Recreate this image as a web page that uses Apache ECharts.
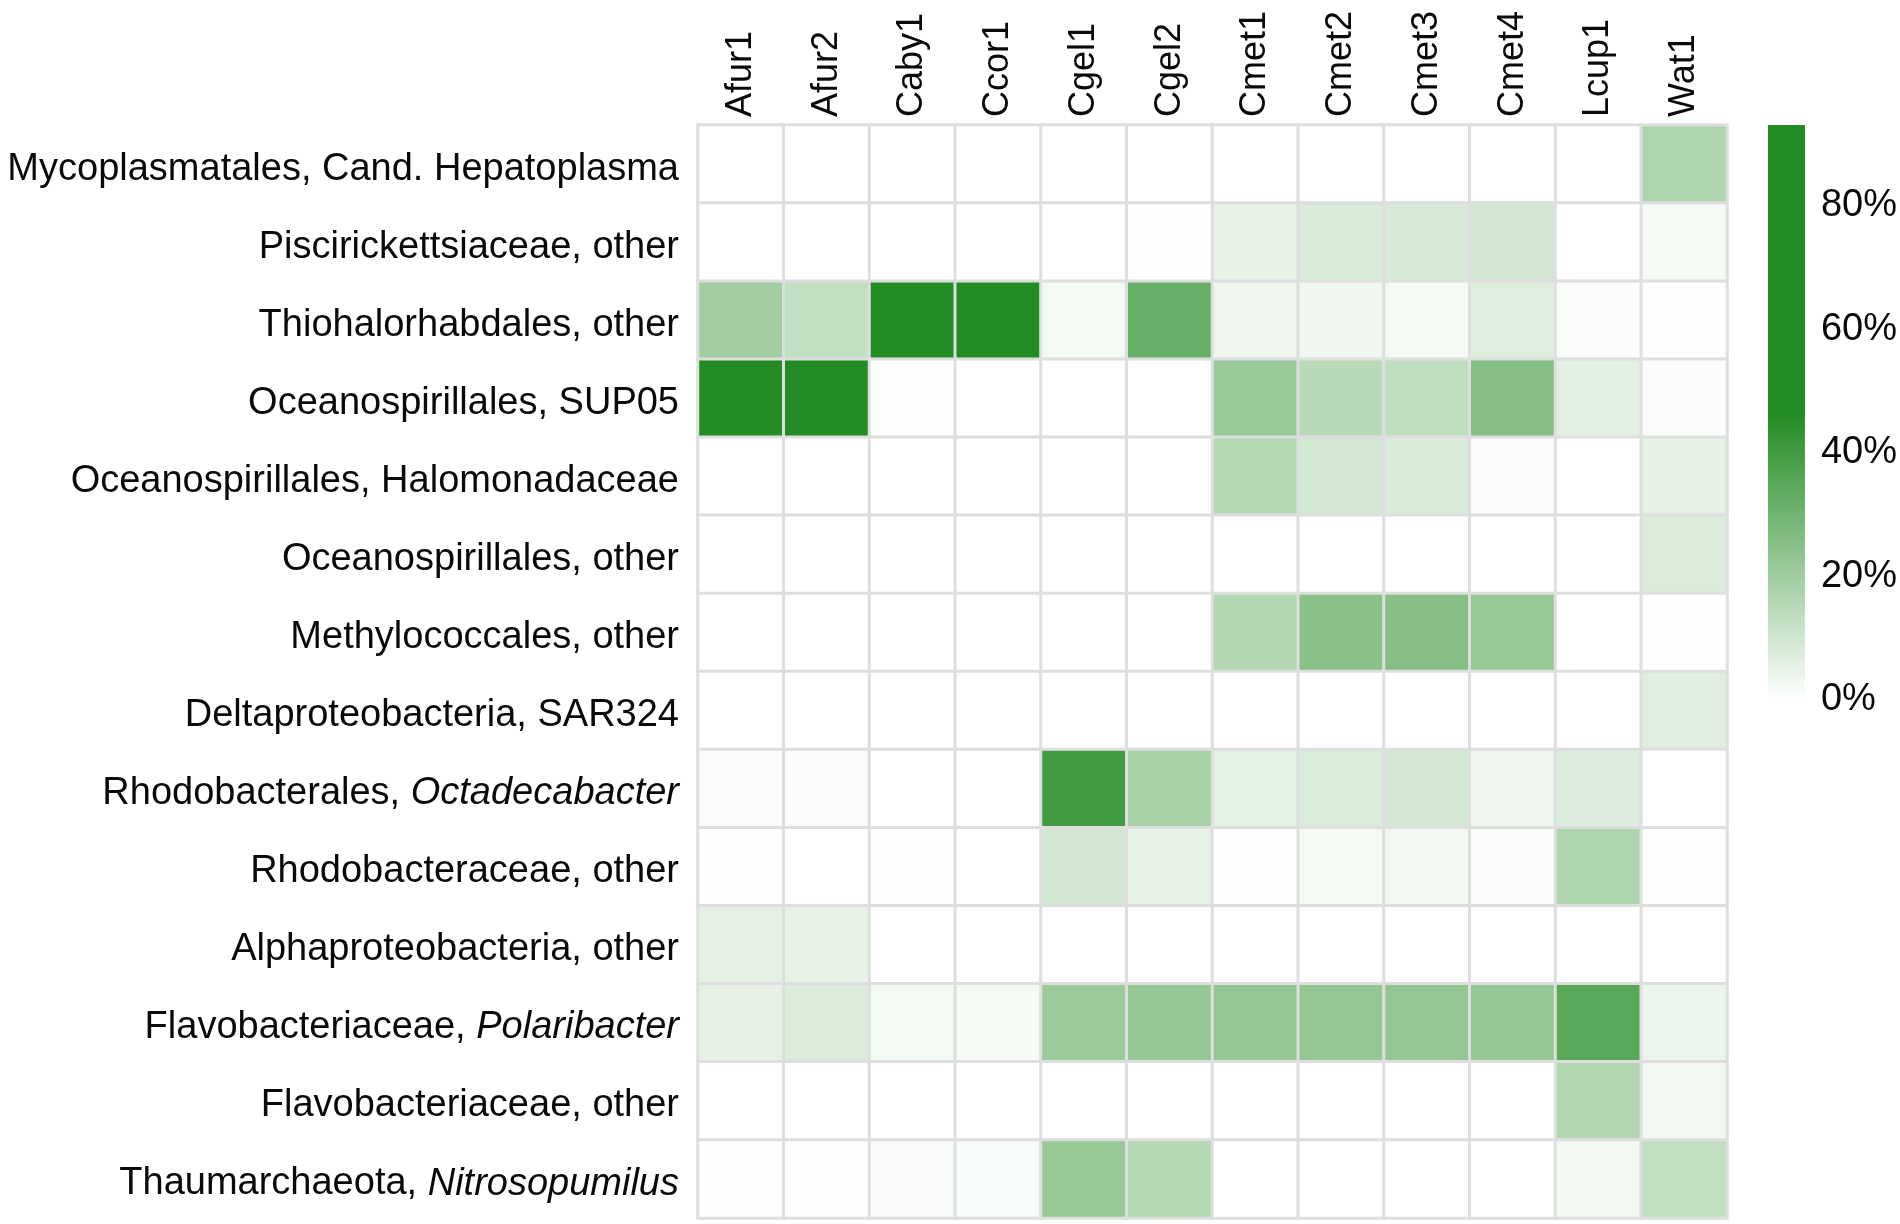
<!DOCTYPE html>
<html><head><meta charset="utf-8">
<script src="https://cdn.jsdelivr.net/npm/echarts@6/dist/echarts.min.js"></script>
<style>html,body{margin:0;padding:0;background:#fff}#c{width:1900px;height:1224px}</style>
</head><body><div id="c"></div>
<script>
const samples = ['Afur1','Afur2','Caby1','Ccor1','Cgel1','Cgel2','Cmet1','Cmet2','Cmet3','Cmet4','Lcup1','Wat1'];
const taxa = [
  'Mycoplasmatales, Cand. Hepatoplasma',
  'Piscirickettsiaceae, other',
  'Thiohalorhabdales, other',
  'Oceanospirillales, SUP05',
  'Oceanospirillales, Halomonadaceae',
  'Oceanospirillales, other',
  'Methylococcales, other',
  'Deltaproteobacteria, SAR324',
  'Rhodobacterales, Octadecabacter',
  'Rhodobacteraceae, other',
  'Alphaproteobacteria, other',
  'Flavobacteriaceae, Polaribacter',
  'Flavobacteriaceae, other',
  'Thaumarchaeota, Nitrosopumilus'
];
const italicGenera = ['Octadecabacter','Polaribacter','Nitrosopumilus'];
const colorbarTicks = [0, 20, 40, 60, 80];

// relative abundance (%) per taxon, in sample order
const mycoplasmatales    = [0, 0, 0, 0, 0, 0, 0, 0, 0, 0, 0, 17];
const piscirickettsiaceae= [0, 0, 0, 0, 0, 0.3, 5, 8, 8.5, 9.5, 0, 2];
const thiohalorhabdales  = [19.6, 13, 93, 88, 2.5, 32, 3.5, 3.2, 2.3, 6.7, 1, 0.5];
const sup05              = [78, 70, 0.3, 0, 0, 0, 21.4, 14.8, 13.5, 25.6, 6, 1];
const halomonadaceae     = [0, 0, 0, 0, 0, 0, 15.6, 9.2, 7.9, 1, 0, 5.6];
const oceanospOther      = [0.2, 0.2, 0.2, 0.2, 0.2, 0.2, 0.2, 0.2, 0.2, 0.2, 0.2, 7.5];
const methylococcales    = [0, 0, 0, 0, 0, 0, 16, 24.8, 25.6, 22, 0, 0.3];
const sar324             = [0, 0, 0, 0, 0, 0, 0, 0, 0, 0, 0, 6.7];
const octadecabacter     = [1, 1.2, 0, 0, 40, 18.7, 5.8, 7.7, 9.2, 3.5, 7.2, 0];
const rhodobacteraceae   = [0.3, 0, 0.3, 0, 9.6, 5.4, 0.6, 2, 2.8, 1, 17, 0.6];
const alphaproteobacteria= [5.6, 5, 0, 0, 0, 0, 0, 0, 0, 0, 0, 0];
const polaribacter       = [5.6, 7.5, 2.5, 2.2, 21, 22.3, 22.7, 23, 22.9, 22.3, 35, 4.2];
const flavobacteriaceae  = [0, 0, 0, 0, 0, 0, 0, 0, 0, 0, 16.4, 3];
const nitrosopumilus     = [0.3, 0.3, 1.5, 1.7, 21.8, 15.8, 0, 0, 0, 0, 2.7, 13];

const rows = [mycoplasmatales, piscirickettsiaceae, thiohalorhabdales, sup05, halomonadaceae,
  oceanospOther, methylococcales, sar324, octadecabacter, rhodobacteraceae, alphaproteobacteria,
  polaribacter, flavobacteriaceae, nitrosopumilus];

const data = [];
rows.forEach((r, yi) => r.forEach((v, xi) => data.push([xi, yi, v])));
const vmax = Math.max(...data.map(d => d[2]));

const FONT = 'Liberation Sans, Arial, sans-serif';
const FS = 38;
const TXT = '#0a0a0a';
const chart = echarts.init(document.getElementById('c'), null, {renderer: 'canvas'});
chart.setOption({
  backgroundColor: '#ffffff',
  animation: false,
  grid: [
    {left: 698, right: 173, top: 125, bottom: 6},
    {left: 1768, width: 37, top: 125, bottom: 524}
  ],
  xAxis: [
    {type: 'category', data: samples, position: 'top', gridIndex: 0,
     axisLine: {show: false}, axisTick: {show: false}, splitLine: {show: false},
     axisLabel: {rotate: -90, margin: 8, color: TXT, fontSize: 36, fontFamily: FONT}},
    {type: 'category', data: ['scale'], gridIndex: 1, show: false}
  ],
  yAxis: [
    {type: 'category', data: taxa, inverse: true, gridIndex: 0,
     axisLine: {show: false}, axisTick: {show: false}, splitLine: {show: false},
     axisLabel: {margin: 19, color: TXT, fontSize: FS, fontFamily: FONT, padding: [10, 0, 0, 0],
       formatter: (v) => {
         const idx = v.indexOf(', ');
         const a = v.slice(0, idx), b = v.slice(idx + 2);
         return italicGenera.includes(b) ? `{n|${a}, }{i|${b}}` : `{n|${v}}`;
       },
       rich: {
         n: {fontSize: FS, fontFamily: FONT, color: TXT},
         i: {fontSize: FS, fontFamily: FONT, color: TXT, fontStyle: 'italic'}
       }}},
    {type: 'value', gridIndex: 1, position: 'right', min: 0, max: vmax, interval: colorbarTicks[1] - colorbarTicks[0],
     axisLine: {show: false}, axisTick: {show: false}, splitLine: {show: false},
     axisLabel: {margin: 16, color: TXT, fontSize: FS, fontFamily: FONT, showMaxLabel: false, padding: [8, 0, 0, 0],
       formatter: (v) => colorbarTicks.includes(v) ? v + '%' : ''}}
  ],
  visualMap: {
    show: false, type: 'continuous', seriesIndex: 0, dimension: 2,
    min: 0, max: vmax,
    inRange: {color: ['#ffffff', '#228B22', '#228B22']}
  },
  series: [
    {type: 'heatmap', xAxisIndex: 0, yAxisIndex: 0, data: data,
     itemStyle: {borderColor: '#dedede', borderWidth: 3},
     emphasis: {disabled: true}, label: {show: false}},
    {type: 'bar', xAxisIndex: 1, yAxisIndex: 1, data: [vmax], barWidth: '100%', silent: true,
     itemStyle: {color: new echarts.graphic.LinearGradient(0, 1, 0, 0, [
       {offset: 0, color: '#ffffff'}, {offset: 0.5, color: '#228B22'}, {offset: 1, color: '#228B22'}])}}
  ]
});
</script></body></html>
